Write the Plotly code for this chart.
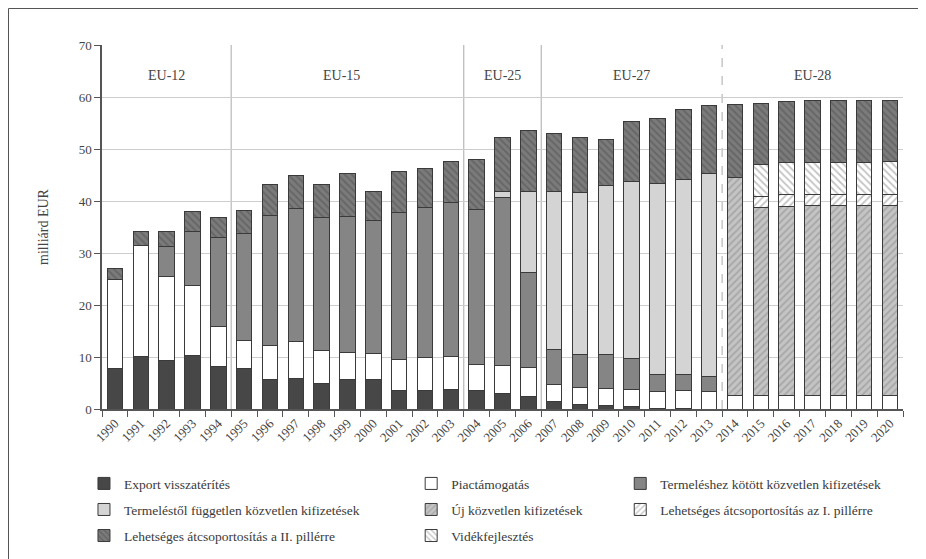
import plotly.graph_objects as go

years = ["1990", "1991", "1992", "1993", "1994", "1995", "1996", "1997", "1998", "1999",
         "2000", "2001", "2002", "2003", "2004", "2005", "2006", "2007", "2008", "2009",
         "2010", "2011", "2012", "2013", "2014", "2015", "2016", "2017", "2018", "2019", "2020"]

export_visszateritas = [7.8, 10.1, 9.4, 10.2, 8.2, 7.8, 5.7, 5.9, 4.9, 5.7, 5.7, 3.5, 3.5, 3.8, 3.5,
                        3.0, 2.5, 1.5, 0.9, 0.6, 0.4, 0.15, 0.1,
                        None, None, None, None, None, None, None, None]
piactamogatas = [17.2, 21.4, 16.0, 13.6, 7.6, 5.3, 6.5, 7.0, 6.3, 5.2, 5.0, 6.1, 6.4, 6.3, 5.0,
                 5.3, 5.4, 3.2, 3.2, 3.4, 3.4, 3.15, 3.4, 3.3, 2.6, 2.6, 2.6, 2.6, 2.6, 2.6, 2.6]
termeleshez_kotott = [None, None, 5.9, 10.4, 17.2, 20.6, 25.1, 25.7, 25.7, 26.1, 25.5, 28.2, 28.9,
                      29.6, 29.8, 32.3, 18.3, 6.8, 6.3, 6.4, 5.9, 3.4, 3.2, 2.9,
                      None, None, None, None, None, None, None]
termelestol_fuggetlen = [None, None, None, None, None, None, None, None, None, None, None, None,
                         None, None, None, 1.3, 15.7, 30.3, 31.2, 32.5, 34.0, 36.7, 37.5, 39.0,
                         None, None, None, None, None, None, None]
uj_kozvetlen = [None, None, None, None, None, None, None, None, None, None, None, None, None,
                None, None, None, None, None, None, None, None, None, None, None,
                41.9, 36.1, 36.3, 36.5, 36.5, 36.5, 36.5]
atcsop_I = [None, None, None, None, None, None, None, None, None, None, None, None, None,
            None, None, None, None, None, None, None, None, None, None, None,
            None, 2.1, 2.3, 2.2, 2.2, 2.2, 2.2]
videkfejlesztes = [None, None, None, None, None, None, None, None, None, None, None, None, None,
                   None, None, None, None, None, None, None, None, None, None, None,
                   None, 6.3, 6.2, 6.2, 6.2, 6.2, 6.3]
atcsop_II = [2.1, 2.6, 2.9, 3.7, 3.9, 4.5, 5.9, 6.4, 6.3, 8.2, 5.7, 7.8, 7.5, 7.9, 9.7, 10.3,
             11.6, 11.1, 10.6, 9.0, 11.6, 12.5, 13.4, 13.2, 14.0, 11.7, 11.7, 11.8, 11.8, 11.8, 11.7]

era_labels = ["EU-12", "EU-15", "EU-25", "EU-27", "EU-28"]
era_label_pos = [2, 8.75, 15, 20, 27]
era_bounds = [4.5, 13.5, 16.5, 23.5]
era_bound_dash = ["solid", "solid", "solid", "dash"]

FONT = "Liberation Serif"
OUTLINE = dict(color="#3a3a3a", width=1)

series = [
    ("Export visszatérítés", export_visszateritas, dict(color="#474747"), "legend"),
    ("Piactámogatás", piactamogatas, dict(color="#ffffff"), "legend2"),
    ("Termeléshez kötött közvetlen kifizetések", termeleshez_kotott, dict(color="#858585"), "legend3"),
    ("Termeléstől független közvetlen kifizetések", termelestol_fuggetlen, dict(color="#d4d4d4"), "legend"),
    ("Új közvetlen kifizetések", uj_kozvetlen,
     dict(color="#bcbcbc", pattern=dict(shape="/", bgcolor="#c4c4c4", fgcolor="#8a8a8a", size=5, solidity=0.35)), "legend2"),
    ("Lehetséges átcsoportosítás az I. pillérre", atcsop_I,
     dict(color="#ffffff", pattern=dict(shape="/", bgcolor="#ffffff", fgcolor="#8a8a8a", size=5, solidity=0.35)), "legend3"),
    ("Vidékfejlesztés", videkfejlesztes,
     dict(color="#ffffff", pattern=dict(shape="\\", bgcolor="#ffffff", fgcolor="#8a8a8a", size=5, solidity=0.35)), "legend2"),
    ("Lehetséges átcsoportosítás a II. pillérre", atcsop_II,
     dict(color="#7a7a7a", pattern=dict(shape="\\", bgcolor="#7b7b7b", fgcolor="#525252", size=5, solidity=0.4)), "legend"),
]

fig = go.Figure()
for i, (name, vals, mk, lg) in enumerate(series):
    marker = dict(mk)
    marker["line"] = OUTLINE
    fig.add_trace(go.Bar(x=years, y=vals, name=name, marker=marker, width=0.6,
                         legend=lg, legendgroup="g%d" % i))

# figure is placed with an 8px page offset; plot area spans page x 102..903, y 45..409
ML, MT, PW, PH = 94, 37, 801, 364
FW, FH = 918, 551

shapes = []
for b, d in zip(era_bounds, era_bound_dash):
    shapes.append(dict(type="line", xref="x", yref="y", x0=b, x1=b, y0=0, y1=70,
                       line=dict(color="#b8b8b8", width=1.2, dash=d), layer="below"))
# outer frame: only top and left edges
fx0 = (0.5 - ML) / PW
fy1 = (PH + MT - 0.5) / PH
shapes.append(dict(type="line", xref="paper", yref="paper", x0=fx0, x1=(FW - ML) / PW, y0=fy1, y1=fy1,
                   line=dict(color="#555555", width=1)))
shapes.append(dict(type="line", xref="paper", yref="paper", x0=fx0, x1=fx0, y0=-(FH - MT - PH) / PH, y1=fy1,
                   line=dict(color="#555555", width=1)))

annotations = []
for lab, pos in zip(era_labels, era_label_pos):
    annotations.append(dict(x=pos, y=64.2, xref="x", yref="y", text=lab, showarrow=False,
                            font=dict(family=FONT, size=14, color="#444444")))

legend_common = dict(orientation="v", yanchor="top", xanchor="left", bgcolor="rgba(0,0,0,0)",
                     font=dict(family=FONT, size=13.5, color="#3a3a3a"), tracegroupgap=5.5,
                     traceorder="grouped", itemclick=False, itemdoubleclick=False)
y_leg = -0.1625

fig.update_layout(
    width=FW, height=FH,
    margin=dict(l=ML, r=FW - ML - PW, t=MT, b=FH - MT - PH, autoexpand=False),
    paper_bgcolor="white", plot_bgcolor="white",
    barmode="stack", bargap=0.4,
    showlegend=True,
    legend=dict(legend_common, x=-0.0225, y=y_leg),
    legend2=dict(legend_common, x=0.386, y=y_leg),
    legend3=dict(legend_common, x=0.647, y=y_leg),
    font=dict(family=FONT, color="#444444"),
    xaxis=dict(type="category", tickson="boundaries", ticks="outside", ticklen=6, tickcolor="#555555",
               showline=True, linecolor="#555555", linewidth=1.5, tickangle=-45,
               tickfont=dict(family=FONT, size=13, color="#444444"), showgrid=False),
    yaxis=dict(range=[0, 70], dtick=10, ticks="outside", ticklen=6, tickcolor="#555555",
               showline=True, linecolor="#555555", linewidth=1.5,
               showgrid=True, gridcolor="#cdcdcd", gridwidth=1.2, zeroline=False,
               tickfont=dict(family=FONT, size=13, color="#444444"),
               title=dict(text="milliárd EUR", font=dict(family=FONT, size=14, color="#444444"), standoff=27)),
    shapes=shapes,
    annotations=annotations,
)

fig.write_html("out.html")
